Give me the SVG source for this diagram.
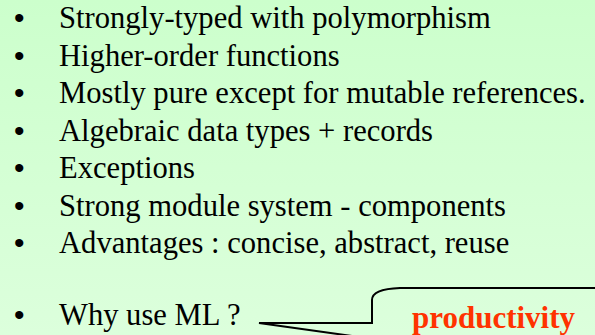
<svg xmlns="http://www.w3.org/2000/svg" width="595" height="335" viewBox="0 0 595 335">
  <defs>
    <linearGradient id="bg" x1="0" y1="0" x2="0" y2="1">
      <stop offset="0" stop-color="#CCFFCC"/>
      <stop offset="1" stop-color="#DCFFDC"/>
    </linearGradient>
  </defs>
  <style>
    .item { font-family: 'Liberation Serif', 'Times New Roman', Times, serif; font-size: 30.6px; fill: #000000; }
    .dot { font-family: 'Liberation Sans', Arial, sans-serif; font-size: 30px; fill: #000000; }
    .callout { fill: none; stroke: #000000; stroke-width: 2; stroke-linejoin: miter; }
    .hl { font-family: 'Liberation Serif', 'Times New Roman', Times, serif; font-size: 31px; font-weight: bold; fill: #FF3300; }
  </style>
  <rect width="595" height="335" fill="url(#bg)"/>

  <g id="bullets">
    <g id="b1"><text class="dot" x="14" y="28">•</text><text class="item" x="59" y="28">Strongly-typed with polymorphism</text></g>
    <g id="b2"><text class="dot" x="14" y="65.5">•</text><text class="item" x="59" y="65.5">Higher-order functions</text></g>
    <g id="b3"><text class="dot" x="14" y="103">•</text><text class="item" x="59" y="103">Mostly pure except for mutable references.</text></g>
    <g id="b4"><text class="dot" x="14" y="140.5">•</text><text class="item" x="59" y="140.5">Algebraic data types + records</text></g>
    <g id="b5"><text class="dot" x="14" y="178">•</text><text class="item" x="59" y="178">Exceptions</text></g>
    <g id="b6"><text class="dot" x="14" y="215.5">•</text><text class="item" x="59" y="215.5">Strong module system - components</text></g>
    <g id="b7"><text class="dot" x="14" y="253">•</text><text class="item" x="59" y="253">Advantages : concise, abstract, reuse</text></g>
    <g id="b8"><text class="dot" x="14" y="325">•</text><text class="item" x="59" y="325">Why use ML ?</text></g>
  </g>

  <g id="connectors">
    <!-- speech-bubble outline pointing at the last bullet -->
    <path class="callout" d="M352,336 L259,323 H372 V300 Q372,289 400,288 H596"/>
  </g>

  <g id="callout-label">
    <text class="hl" x="412" y="328">productivity</text>
  </g>
</svg>
